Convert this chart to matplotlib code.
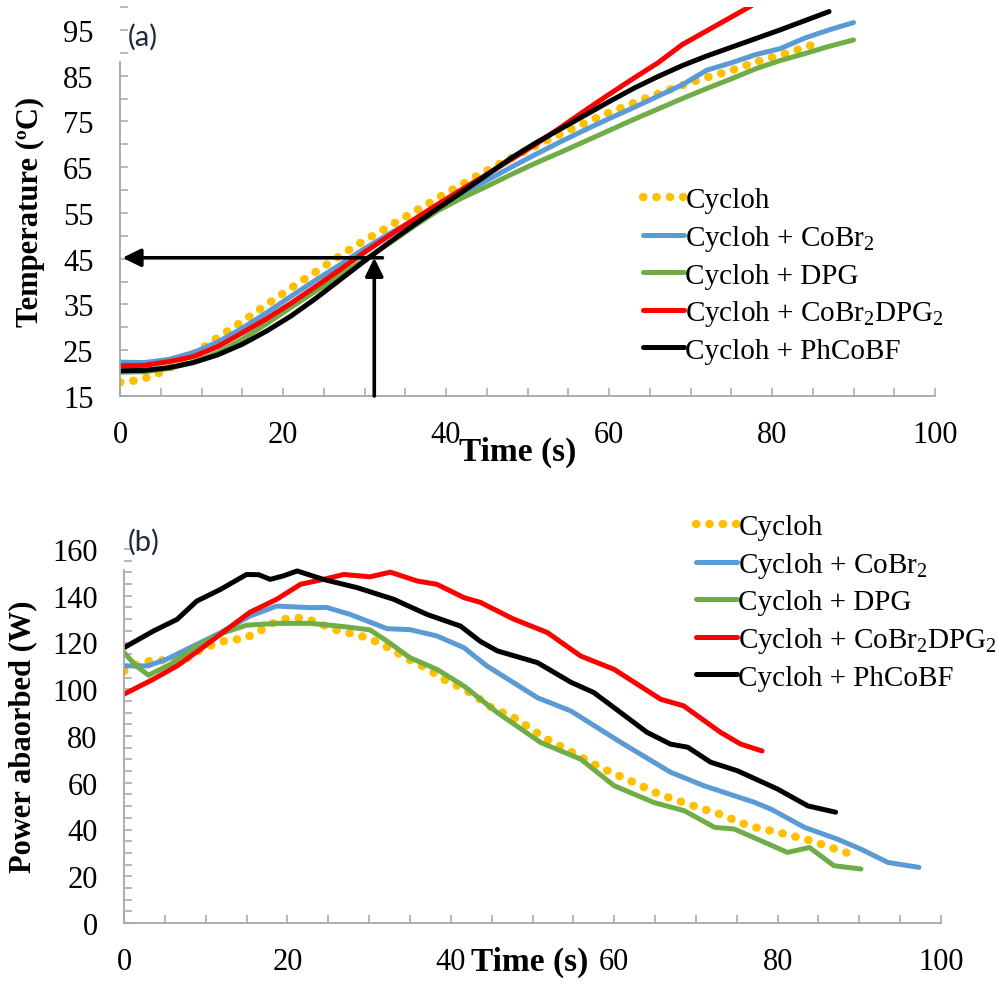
import matplotlib

matplotlib.use("Agg")
import matplotlib.pyplot as plt
from matplotlib.ticker import MultipleLocator

W, H = 997, 987

# ---- panel (a): temperature (C) vs time (s)
cyc_t_a = [0, 2, 4, 6, 8, 10, 12, 14, 16, 18, 20, 22, 24, 26, 28, 30, 32, 34, 36, 38, 40, 42,
           44, 46, 48, 50, 52, 54, 56, 58, 60, 62, 64, 66, 68, 70, 72, 74, 76, 78, 80, 82, 84, 86]
cyc_a = [18.0, 18.4, 19.4, 21.0, 23.2, 25.3, 27.8, 30.1, 32.5, 35.0, 37.4, 39.8, 42.1, 44.5,
         46.8, 49.0, 51.0, 53.1, 55.2, 57.2, 59.3, 61.3, 63.3, 65.2, 67.0, 68.8, 70.5, 72.2,
         73.8, 75.4, 76.9, 78.3, 79.7, 81.0, 82.3, 83.5, 84.6, 85.6, 86.7, 88.0, 89.0, 90.0,
         91.2, 92.3]
t90_a = [0, 3, 6, 9, 12, 15, 18, 21, 24, 27, 30, 33, 36, 39, 42, 45, 48, 51, 54, 57, 60, 63,
         66, 69, 72, 75, 78, 81, 84, 87, 90]
cobr_a = [22.4, 22.3, 23.0, 24.5, 26.8, 29.8, 33.2, 36.8, 40.3, 43.7, 47.2, 50.4, 53.4, 56.3,
          59.2, 62.1, 65.0, 67.8, 70.5, 73.1, 75.6, 78.0, 80.5, 83.0, 86.2, 87.8, 89.6, 90.9,
          93.2, 95.0, 96.6]
dpg_a = [20.2, 20.3, 21.0, 22.4, 24.5, 27.4, 30.8, 34.4, 37.9, 41.4, 44.8, 48.3, 52.0, 55.5,
         58.3, 60.8, 63.4, 65.9, 68.2, 70.6, 73.0, 75.4, 77.7, 80.0, 82.2, 84.3, 86.5, 88.3,
         89.8, 91.4, 92.8]
red_t_a = [0, 3, 6, 9, 12, 15, 18, 21, 24, 27, 30, 33, 36, 39, 42, 45, 48, 51, 54, 57, 60, 63,
           66, 69, 72, 75, 77.5]
cobrdpg_a = [21.6, 21.7, 22.5, 23.6, 25.8, 28.8, 31.9, 35.3, 38.9, 42.6, 46.4, 50.0, 53.5, 56.9,
             60.2, 63.4, 66.7, 70.0, 73.6, 77.3, 80.9, 84.4, 87.8, 91.8, 94.8, 97.8, 100.3]
blk_t_a = [0, 3, 6, 9, 12, 15, 18, 21, 24, 27, 30, 33, 36, 39, 42, 45, 48, 51, 54, 57, 60, 63,
           66, 69, 72, 75, 78, 81, 84, 87]
phcobf_a = [20.5, 20.6, 21.2, 22.3, 24.0, 26.3, 29.2, 32.5, 36.3, 40.4, 44.5, 48.5, 52.3, 56.0,
            59.6, 63.3, 67.0, 70.3, 73.3, 76.3, 79.3, 82.2, 84.8, 87.2, 89.3, 91.2, 93.1, 95.0,
            97.0, 99.0]

# reading arrows on panel (a)
arrow_t, arrow_T = 31.2, 45.2

# ---- panel (b): power absorbed (W) vs time (s)
cyc_t_b = [0, 1.6, 3.6, 7.2, 9.1, 10.7, 12.6, 14.6, 16.3, 18, 19.9, 21.8, 23.6, 25.4, 27.3, 29.3,
           31, 32.8, 34.4, 36.1, 37.9, 39.5, 41.3, 43, 44.6, 48.1, 51.4, 54.9, 58.3, 62, 65.5,
           69, 72.9, 76.5, 80.2, 84.1, 87.7, 89.6]
cyc_b = [107.8, 110.7, 112.5, 112, 116.4, 118.8, 121, 121.6, 124.2, 128, 130.2, 130.6, 128.7,
         125.9, 124.2, 122.5, 120.2, 117, 113.5, 110.7, 107.1, 103.5, 100.7, 97.2, 92.9, 87.2,
         79.3, 72.9, 66.5, 60.8, 55.1, 50.9, 46.6, 41.5, 38.7, 35.2, 30.9, 28.8]
cobr_t_b = [0, 2.9, 5.2, 8.5, 11.8, 15.4, 18.7, 22.8, 24.8, 27.7, 32.2, 35, 38.3, 41.6, 44.4,
            50.6, 54.7, 60.8, 66.9, 71, 77.1, 79.2, 83.3, 87.3, 90.2, 93.5, 97.3]
cobr_b = [110, 110, 112.8, 118.5, 124.2, 131.3, 135.6, 134.9, 135, 132, 125.9, 125.5, 122.8,
          117.8, 110, 96.4, 90.7, 77.3, 64.5, 58.7, 51.7, 48.7, 40.9, 35.9, 31.6, 25.9, 23.8]
dpg_t_b = [0, 1.5, 3, 5.7, 8.9, 12.2, 15, 18.7, 22.8, 26.9, 30.1, 32.2, 35, 38.3, 41.6, 45.7,
           51, 55.9, 60, 64.9, 68.6, 72.3, 74.7, 81.2, 83.9, 86.9, 90.2]
dpg_b = [115.7, 110, 106, 110.7, 118.5, 124.2, 127.4, 128.2, 128.2, 126.8, 125.4, 120.6, 113.5,
         108.5, 101.4, 90, 77.2, 70.1, 58.7, 51.5, 48, 40.9, 40.2, 30.2, 32.3, 24.5, 23.1]
cobrdpg_t_b = [0, 3.6, 6.5, 9.3, 12.6, 15.4, 18.7, 21.6, 24.4, 26.9, 30.1, 32.6, 35.9, 38.3,
               41.6, 43.6, 47.7, 51.8, 55.9, 60, 65.7, 68.5, 73, 75.5, 78.1]
cobrdpg_b = [97.9, 104.3, 110, 117, 125.6, 132.9, 138.5, 144.9, 147, 149.1, 148.1, 150.1, 146.3,
             144.9, 139.2, 137.2, 130, 124.3, 114.2, 108.5, 95.7, 92.9, 81.6, 76.5, 73.6]
phcobf_t_b = [0, 3.6, 6.5, 8.9, 11.8, 15, 16.5, 17.9, 19.5, 21.2, 24.4, 28.5, 33, 37.1, 41.2,
              43.6, 45.7, 50.6, 54.7, 57.5, 60.8, 64, 66.9, 69, 71.8, 75.1, 80, 83.7, 87.1]
phcobf_b = [117.8, 124.9, 129.9, 137.7, 142.7, 149.1, 149, 147, 148.5, 150.6, 147, 143.5, 138.5,
            132, 127, 120.5, 116.4, 111.4, 103, 98.6, 90, 81.6, 76.5, 75.2, 68.8, 65.1, 57.3,
            50.1, 47.4]

labels = ["Cycloh", "Cycloh + CoBr$_2$", "Cycloh + DPG",
          "Cycloh + CoBr$_2$DPG$_2$", "Cycloh + PhCoBF"]
colors = ["#FFC000", "#5B9BD5", "#70AD47", "#FF0000", "#000000"]

plt.rcParams["font.family"] = "Liberation Serif"
plt.rcParams["mathtext.fontset"] = "custom"
plt.rcParams["mathtext.rm"] = "Liberation Serif"
plt.rcParams["mathtext.default"] = "regular"

SPINE = "#a6a6a6"


def fx(px):
    return px / W


def fy(py):
    return 1 - py / H


def style_axes(ax, ylim, ymajor, ybound_top):
    ax.set_xlim(0, 100)
    ax.set_ylim(*ylim)
    ax.xaxis.set_major_locator(MultipleLocator(20))
    ax.xaxis.set_minor_locator(MultipleLocator(5))
    ax.yaxis.set_major_locator(MultipleLocator(ymajor))
    ax.yaxis.set_minor_locator(MultipleLocator(5))
    for s in ("top", "right"):
        ax.spines[s].set_visible(False)
    for s in ("left", "bottom"):
        ax.spines[s].set_color(SPINE)
        ax.spines[s].set_linewidth(1.3)
    ax.spines["left"].set_bounds(ylim[0], ybound_top)
    ax.tick_params(which="both", direction="in", length=6, width=1.1, color=SPINE,
                   labelsize=22, pad=17)
    ax.tick_params(axis="y", pad=19)
    # no tick marks above the drawn spine
    for t in ax.yaxis.get_major_ticks() + ax.yaxis.get_minor_ticks():
        if t.get_loc() > ybound_top:
            t.tick1line.set_visible(False)


fig = plt.figure(figsize=(W / 100, H / 100), dpi=100)

ax_a = fig.add_axes([fx(120), fy(397), (935 - 120) / W, (397 - 8) / H])
ax_b = fig.add_axes([fx(124), fy(924), (941 - 124) / W, (924 - 550) / H])

dot_kw = dict(lw=6, linestyle=(0, (0.05, 1.55)), dash_capstyle="round")
line_kw = dict(lw=3.6, solid_capstyle="round", solid_joinstyle="round")

series_a = [(cyc_t_a, cyc_a), (t90_a, cobr_a), (t90_a, dpg_a),
            (red_t_a, cobrdpg_a), (blk_t_a, phcobf_a)]
series_b = [(cyc_t_b, cyc_b), (cobr_t_b, cobr_b), (dpg_t_b, dpg_b),
            (cobrdpg_t_b, cobrdpg_b), (phcobf_t_b, phcobf_b)]

for ax, series in ((ax_a, series_a), (ax_b, series_b)):
    for i, ((t, v), lab, c) in enumerate(zip(series, labels, colors)):
        kw = dot_kw if i == 0 else line_kw
        ax.plot(t, v, color=c, label=lab, **kw)

style_axes(ax_a, (15, 100), 10, 88)
ax_a.yaxis.set_major_locator(MultipleLocator(10, offset=5))
style_axes(ax_b, (0, 160), 20, 151)

# arrows on (a)
arrow_kw = dict(arrowstyle="-|>,head_length=0.55,head_width=0.27", color="black", lw=2.6,
                shrinkA=0, shrinkB=0, mutation_scale=20)
ax_a.annotate("", xy=(0.3, arrow_T), xytext=(arrow_t + 1.0, arrow_T), arrowprops=arrow_kw)
ax_a.annotate("", xy=(arrow_t, arrow_T), xytext=(arrow_t, 15), arrowprops=arrow_kw,
              annotation_clip=False)

# axis titles
fig.text(fx(30), fy(212), "Temperature (ºC)", rotation=90, fontsize=22,
         fontweight="bold", ha="center", va="center")
fig.text(fx(23), fy(737), "Power abaorbed (W)", rotation=90, fontsize=22,
         fontweight="bold", ha="center", va="center")
fig.text(fx(518), fy(452), "Time (s)", fontsize=24, fontweight="bold", ha="center", va="center")
fig.text(fx(530), fy(962), "Time (s)", fontsize=24, fontweight="bold", ha="center", va="center")

# panel tags
tag_kw = dict(fontsize=21, family="Lato", color="#1c2a3a", ha="left", va="center")
fig.text(fx(128), fy(37), "(a)", **tag_kw)
fig.text(fx(128), fy(542), "(b)", **tag_kw)

leg_kw = dict(frameon=False, fontsize=21, handlelength=1.4, handletextpad=0.05,
              labelspacing=0.32, borderpad=0, borderaxespad=0, loc="upper left")
ax_a.legend(bbox_to_anchor=(fx(643), fy(188)), bbox_transform=fig.transFigure, **leg_kw)
ax_b.legend(bbox_to_anchor=(fx(696), fy(515)), bbox_transform=fig.transFigure, **leg_kw)

fig.savefig("out.png", dpi=100)
